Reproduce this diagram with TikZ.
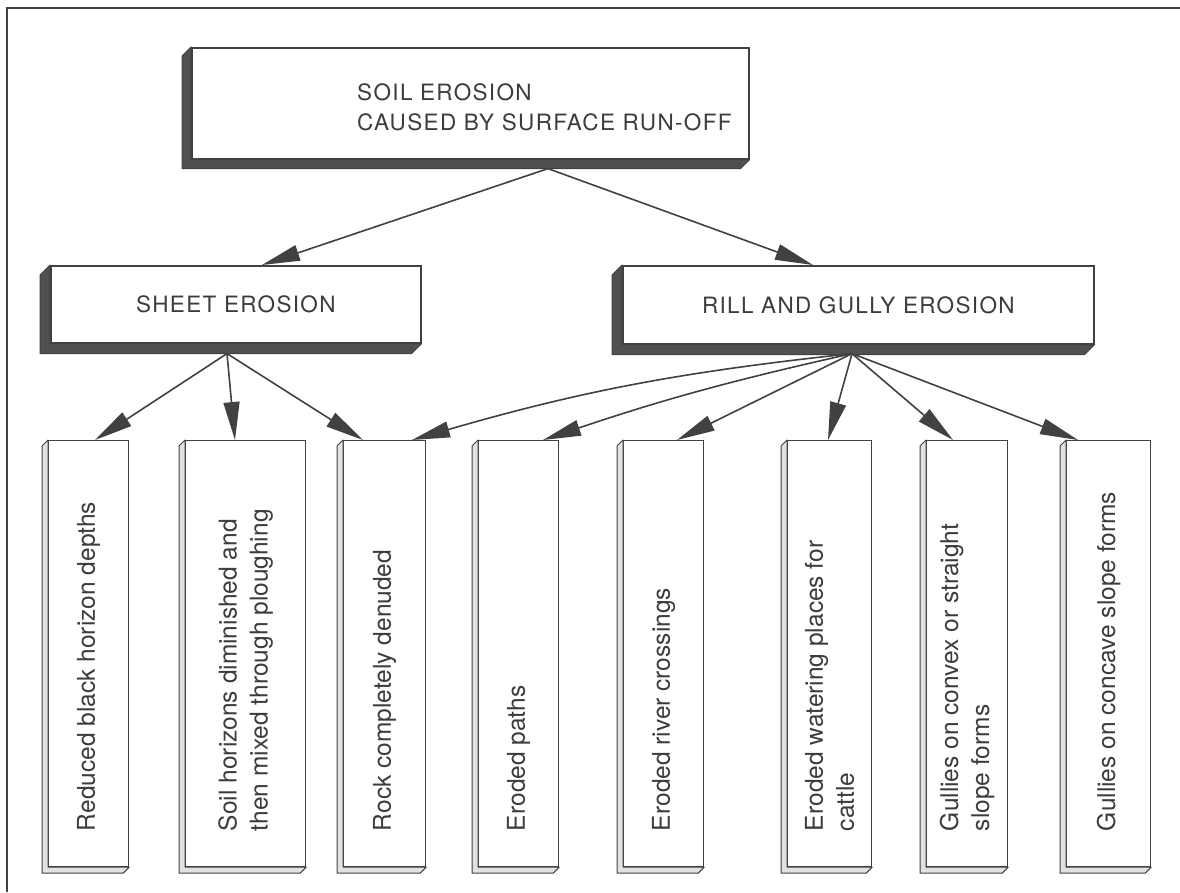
\documentclass[tikz,border=0pt]{standalone}
\usepackage{fontspec}
\setmainfont{TeX Gyre Heros}
\newfontfamily\capsfont[LetterSpace=6]{TeX Gyre Heros}
\usetikzlibrary{arrows.meta}

\definecolor{inkgray}{RGB}{65,65,65}
\definecolor{shadegray}{RGB}{80,80,80}
\definecolor{textgray}{RGB}{60,60,60}
\definecolor{sidegray}{RGB}{225,225,225}

\tikzset{
  slab/.style={draw=inkgray, line width=1.6pt, fill=white, inner sep=0pt, anchor=north west,
    text=textgray, font=\capsfont\fontsize{22.5}{30}\selectfont},
  post/.style={draw=inkgray, line width=1.2pt, fill=white, inner sep=0pt, anchor=north west,
    minimum height=426pt},
  captext/.style={text=textgray, font=\capsfont\fontsize{22.5}{30}\selectfont, align=left, inner sep=0pt},
  posttext/.style={text=textgray, font=\fontsize{24.5}{31}\selectfont, align=left, inner sep=0pt,
    rotate=90, anchor=west},
  arr/.style={draw=inkgray, line width=1.6pt, -{Triangle[length=38pt,width=16pt]}},
}

\begin{document}
\begin{tikzpicture}[x=1pt, y=-1pt]
\useasboundingbox (0,0) rectangle (1180,892);
\draw[inkgray, line width=2pt] (7,892) -- (7,8) -- (1180,8);

% upper slabs
\node[slab, minimum width=557pt, minimum height=111pt] (top) at (191,47) {};
\node[captext, anchor=west] (toplabel) at (357,107) {SOIL EROSION\\CAUSED BY SURFACE RUN-OFF};
\node[slab, minimum width=370pt, minimum height=77pt] (sheet) at (50,265) {SHEET EROSION};
\node[slab, minimum width=471pt, minimum height=78pt] (rill) at (622,265) {RILL AND GULLY EROSION};

\foreach \n/\d in {top/9, sheet/10, rill/10}
  \filldraw[fill=shadegray, draw=inkgray, line width=1pt, line join=round]
    (\n.north west) -- ++(-\d,\d) -- ([shift={(-\d,\d)}]\n.south west)
    -- ([shift={(-\d,\d)}]\n.south east) -- (\n.south east) -- (\n.south west) -- cycle;

% posts
\node[post, minimum width=80pt] (b1) at (48,440) {};
\node[post, minimum width=120pt] (b2) at (185,440) {};
\node[post, minimum width=82pt] (b3) at (343,440) {};
\node[post, minimum width=80pt] (b4) at (478,440) {};
\node[post, minimum width=80pt] (b5) at (623,440) {};
\node[post, minimum width=84pt] (b6) at (787,440) {};
\node[post, minimum width=81pt] (b7) at (926,440) {};
\node[post, minimum width=84pt] (b8) at (1066,440) {};

\foreach \n in {b1,b2,b3,b4,b5,b6,b7,b8}
  \filldraw[fill=sidegray, draw=inkgray, line width=1pt, line join=round]
    (\n.north west) -- ++(-6,6) -- ([shift={(-6,6)}]\n.south west)
    -- ([shift={(-6,6)}]\n.south east) -- (\n.south east) -- (\n.south west) -- cycle;

\node[posttext] (t1) at ([yshift=36pt]b1.south) {Reduced black horizon depths};
\node[posttext] (t2) at ([yshift=36pt]b2.south) {Soil horizons diminished and\\then mixed through ploughing};
\node[posttext] (t3) at ([yshift=36pt]b3.south) {Rock completely denuded};
\node[posttext] (t4) at ([yshift=36pt]b4.south) {Eroded paths};
\node[posttext] (t5) at ([yshift=36pt]b5.south) {Eroded river crossings};
\node[posttext] (t6) at ([yshift=36pt]b6.south) {Eroded watering places for\\cattle};
\node[posttext] (t7) at ([yshift=36pt]b7.south) {Gullies on convex or straight\\slope forms};
\node[posttext] (t8) at ([yshift=36pt]b8.south) {Gullies on concave slope forms};

% arrows
\coordinate (topfoot) at ([shift={(357,9)}]top.south west);
\coordinate (sheetfoot) at ([shift={(177,10)}]sheet.south west);
\coordinate (rillfoot) at ([shift={(230,9)}]rill.south west);

\draw[arr] (topfoot) -- ([xshift=212pt]sheet.north west);
\draw[arr] (topfoot) -- ([xshift=191pt]rill.north west);

\draw[arr] (sheetfoot) -- ([xshift=47pt]b1.north west);
\draw[arr] (sheetfoot) -- ([xshift=50pt]b2.north west);
\draw[arr] (sheetfoot) -- ([xshift=20pt]b3.north west);

\draw[arr] (rillfoot) to[bend right=5] ([xshift=69pt]b3.north west);
\draw[arr] (rillfoot) to[bend right=3] ([xshift=65pt]b4.north west);
\draw[arr] (rillfoot) -- ([xshift=54pt]b5.north west);
\draw[arr] (rillfoot) -- ([xshift=41pt]b6.north west);
\draw[arr] (rillfoot) -- ([xshift=27pt]b7.north west);
\draw[arr] (rillfoot) -- ([xshift=12pt]b8.north west);
\end{tikzpicture}
\end{document}
